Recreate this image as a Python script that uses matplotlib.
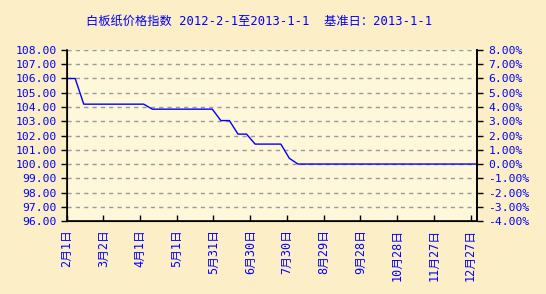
import datetime as dt
import matplotlib.pyplot as plt

plt.rcParams['font.family'] = ['DejaVu Sans Mono', 'Noto Sans CJK SC']

title = '白板纸价格指数 2012-2-1至2013-1-1  基准日：2013-1-1'

# weekly index values
dates = ['2012-02-01', '2012-02-08', '2012-02-15', '2012-02-22', '2012-02-29',
         '2012-03-07', '2012-03-14', '2012-03-21', '2012-03-28', '2012-04-04',
         '2012-04-11', '2012-04-18', '2012-04-25', '2012-05-02', '2012-05-09',
         '2012-05-16', '2012-05-23', '2012-05-30', '2012-06-06', '2012-06-13',
         '2012-06-20', '2012-06-27', '2012-07-04', '2012-07-11', '2012-07-18',
         '2012-07-25', '2012-08-01', '2012-08-08', '2012-08-15', '2012-08-22',
         '2012-08-29', '2012-09-05', '2012-09-12', '2012-09-19', '2012-09-26',
         '2012-10-03', '2012-10-10', '2012-10-17', '2012-10-24', '2012-10-31',
         '2012-11-07', '2012-11-14', '2012-11-21', '2012-11-28', '2012-12-05',
         '2012-12-12', '2012-12-19', '2012-12-26', '2013-01-01']
values = [106.0, 106.0, 104.2, 104.2, 104.2, 104.2, 104.2, 104.2, 104.2, 104.2,
          103.85, 103.85, 103.85, 103.85, 103.85, 103.85, 103.85, 103.85, 103.05, 103.05,
          102.1, 102.1, 101.4, 101.4, 101.4, 101.4, 100.4, 100.0, 100.0, 100.0,
          100.0, 100.0, 100.0, 100.0, 100.0, 100.0, 100.0, 100.0, 100.0, 100.0,
          100.0, 100.0, 100.0, 100.0, 100.0, 100.0, 100.0, 100.0, 100.0]

tick_dates = ['2012-02-01', '2012-03-02', '2012-04-01', '2012-05-01', '2012-05-31',
              '2012-06-30', '2012-07-30', '2012-08-29', '2012-09-28', '2012-10-28',
              '2012-11-27', '2012-12-27']
tick_labels = ['2月1日', '3月2日', '4月1日', '5月1日', '5月31日', '6月30日',
               '7月30日', '8月29日', '9月28日', '10月28日', '11月27日', '12月27日']
left_ticks = [96, 97, 98, 99, 100, 101, 102, 103, 104, 105, 106, 107, 108]
right_ticks = [-4, -3, -2, -1, 0, 1, 2, 3, 4, 5, 6, 7, 8]

x = [dt.datetime.strptime(d, '%Y-%m-%d') for d in dates]
xt = [dt.datetime.strptime(d, '%Y-%m-%d') for d in tick_dates]

blue = '#0000FF'
fig = plt.figure(figsize=(5.46, 2.94), dpi=100, facecolor='#FCEFC8')
ax = fig.add_axes([0.122, 0.248, 0.751, 0.582])
ax.set_facecolor('#FFF7DA')

ax.plot(x, values, color=blue, lw=1.0)
ax.set_xlim(x[0], x[-1])
ax.set_ylim(96, 108)
ax.set_yticks(left_ticks)
ax.set_yticklabels(['%.2f' % v for v in left_ticks])
ax.set_xticks(xt)
ax.set_xticklabels(tick_labels, rotation=90, va='top', ha='center')
ax.grid(axis='y', color='#9A9A9A', linestyle=(0, (3, 3)), lw=1)
ax.set_axisbelow(True)
ax.spines['top'].set_visible(False)
for s in ['left', 'right', 'bottom']:
    ax.spines[s].set_linewidth(1.2)
ax.tick_params(axis='y', direction='out', length=4, width=1, pad=3,
               labelcolor=blue, labelsize=8.2)
ax.tick_params(axis='x', direction='in', length=4, width=1, pad=6,
               labelcolor=blue, labelsize=8.5)

ax2 = ax.twinx()
ax2.set_ylim(-4, 8)
ax2.set_yticks(right_ticks)
ax2.set_yticklabels(['%.2f%%' % v for v in right_ticks])
ax2.spines['top'].set_visible(False)
ax2.spines['right'].set_linewidth(1.2)
ax2.tick_params(axis='y', direction='out', length=4, width=1, pad=4.5,
                labelcolor=blue, labelsize=8.2)

fig.text(0.475, 0.926, title, color=blue, fontsize=8.8, ha='center', va='center')

fig.savefig('out.png', dpi=100, facecolor=fig.get_facecolor())
